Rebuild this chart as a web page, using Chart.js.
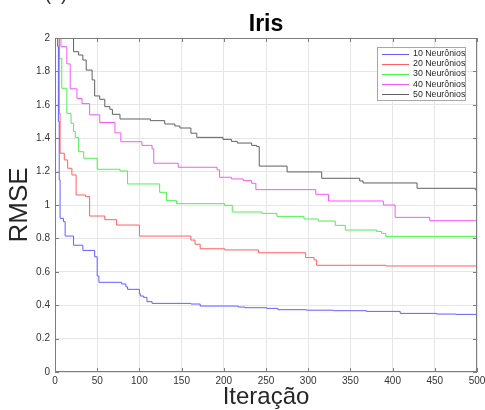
<!DOCTYPE html>
<html>
<head>
<meta charset="utf-8">
<script src="https://cdn.jsdelivr.net/npm/chart.js@4"></script>
<style>
  html, body { margin: 0; padding: 0; background: #ffffff; }
  #wrap { width: 485px; height: 410px; }
</style>
</head>
<body>
<div id="wrap"><canvas id="c" width="485" height="410"></canvas></div>
<script>
// Texts
const panelLabel = '(a)';
const chartTitle = 'Iris';
const xAxisTitle = 'Iteração';
const yAxisTitle = 'RMSE';
const seriesLabels = ['10 Neurônios', '20 Neurônios', '30 Neurônios', '40 Neurônios', '50 Neurônios'];
const seriesColors = ['rgb(96,96,255)', 'rgb(255,96,96)', 'rgb(80,240,80)', 'rgb(245,90,245)', 'rgb(96,96,96)'];

// Axis ticks
const xTicks = [0, 50, 100, 150, 200, 250, 300, 350, 400, 450, 500];
const yTicks = [0, 0.2, 0.4, 0.6, 0.8, 1, 1.2, 1.4, 1.6, 1.8, 2];

// Best RMSE per iteration: iteration at which the value changes, and the new value
const iter10 = [0, 1, 2, 3, 4, 5, 6, 10, 12, 22, 33, 47, 50, 52, 79, 84, 86, 100, 101, 105, 109, 115, 161, 172, 217, 225, 251, 264, 298, 330, 369, 409, 452, 475, 500];
const rmse10 = [3.4, 2.8, 2.3, 1.95, 1.5, 1.15, 0.92, 0.90, 0.814, 0.759, 0.728, 0.69, 0.575, 0.537, 0.527, 0.51, 0.495, 0.47, 0.455, 0.447, 0.421, 0.411, 0.407, 0.395, 0.389, 0.385, 0.381, 0.373, 0.370, 0.367, 0.363, 0.351, 0.347, 0.345, 0.345];

const iter20 = [0, 2, 4, 5, 6, 11, 15, 20, 25, 36, 41, 59, 73, 100, 161, 166, 172, 201, 241, 297, 307, 310, 392, 500];
const rmse20 = [3.0, 2.6, 2.2, 1.55, 1.31, 1.27, 1.22, 1.18, 1.06, 1.052, 0.934, 0.912, 0.88, 0.814, 0.79, 0.765, 0.738, 0.731, 0.714, 0.685, 0.671, 0.639, 0.635, 0.635];

const iter30 = [0, 3, 5, 8, 14, 19, 22, 24, 28, 34, 50, 77, 86, 124, 132, 144, 201, 210, 245, 263, 295, 312, 332, 344, 381, 387, 392, 500];
const rmse30 = [3.0, 2.3, 1.878, 1.699, 1.549, 1.489, 1.44, 1.405, 1.319, 1.28, 1.214, 1.204, 1.126, 1.076, 1.026, 1.008, 0.998, 0.958, 0.95, 0.932, 0.916, 0.904, 0.878, 0.85, 0.842, 0.83, 0.812, 0.812];

const iter40 = [0, 4, 7, 14, 18, 26, 32, 41, 53, 71, 78, 103, 115, 117, 146, 192, 195, 209, 223, 233, 238, 309, 324, 389, 403, 444, 500];
const rmse40 = [3.0, 2.4, 1.948, 1.845, 1.696, 1.638, 1.607, 1.54, 1.494, 1.432, 1.379, 1.357, 1.336, 1.25, 1.226, 1.21, 1.166, 1.156, 1.146, 1.13, 1.092, 1.064, 1.024, 1.0, 0.926, 0.906, 0.906];

const iter50 = [0, 10, 20, 22, 28, 33, 37, 44, 47, 53, 59, 65, 68, 77, 113, 130, 142, 148, 161, 168, 199, 209, 216, 233, 239, 242, 275, 316, 361, 365, 429, 498, 500];
const rmse50 = [3.5, 2.6, 2.2, 1.918, 1.898, 1.868, 1.808, 1.749, 1.653, 1.633, 1.589, 1.573, 1.543, 1.515, 1.505, 1.485, 1.473, 1.461, 1.43, 1.405, 1.393, 1.381, 1.371, 1.357, 1.35, 1.233, 1.198, 1.16, 1.144, 1.132, 1.1, 1.09, 1.09];

const seriesIters = [iter10, iter20, iter30, iter40, iter50];
const seriesRmse = [rmse10, rmse20, rmse30, rmse40, rmse50];

const FONT = "'Liberation Sans', Arial, Helvetica, sans-serif";
const AXIS_COLOR = '#7d7d7d';
const TEXT_COLOR = '#262626';

const datasets = seriesLabels.map((label, i) => ({
  label: label,
  data: seriesIters[i].map((x, k) => ({ x: x, y: seriesRmse[i][k] })),
  borderColor: seriesColors[i],
  backgroundColor: seriesColors[i],
  borderWidth: 1,
  pointRadius: 0,
  stepped: 'before',
  fill: false,
  tension: 0
}));

// Box around the axes, inward tick marks, title, panel label and legend
const decorations = {
  id: 'decorations',
  afterDatasetsDraw(chart) {
    const { ctx, chartArea: a, scales } = chart;
    ctx.save();

    // Frame
    ctx.strokeStyle = AXIS_COLOR;
    ctx.lineWidth = 1;
    ctx.strokeRect(Math.round(a.left) + 0.5, Math.round(a.top) + 0.5,
                   Math.round(a.right - a.left) - 1, Math.round(a.bottom - a.top) - 1);

    // Inward ticks
    const tl = 4;
    ctx.beginPath();
    xTicks.forEach(v => {
      const px = Math.round(scales.x.getPixelForValue(v)) + 0.5;
      ctx.moveTo(px, a.bottom); ctx.lineTo(px, a.bottom - tl);
      ctx.moveTo(px, a.top); ctx.lineTo(px, a.top + tl);
    });
    yTicks.forEach(v => {
      const py = Math.round(scales.y.getPixelForValue(v)) + 0.5;
      ctx.moveTo(a.left, py); ctx.lineTo(a.left + tl, py);
      ctx.moveTo(a.right, py); ctx.lineTo(a.right - tl, py);
    });
    ctx.stroke();

    // Title
    ctx.fillStyle = '#000000';
    ctx.font = 'bold 23px ' + FONT;
    ctx.textAlign = 'center';
    ctx.textBaseline = 'alphabetic';
    ctx.fillText(chartTitle, (a.left + a.right) / 2, 31);

    // Panel label
    ctx.font = '18px ' + FONT;
    ctx.fillStyle = TEXT_COLOR;
    ctx.fillText(panelLabel, 56, 0);

    // Legend
    const bw = 89, bh = 54;
    const bx = Math.round(a.right) - 11 - bw, by = Math.round(a.top) + 9;
    ctx.fillStyle = '#ffffff';
    ctx.fillRect(bx, by, bw, bh);
    ctx.strokeStyle = '#a8a8a8';
    ctx.strokeRect(bx + 0.5, by + 0.5, bw - 1, bh - 1);
    ctx.font = '8.8px ' + FONT;
    ctx.textAlign = 'left';
    ctx.textBaseline = 'middle';
    seriesLabels.forEach((label, i) => {
      const y = by + 6.5 + i * 10.2;
      ctx.strokeStyle = seriesColors[i];
      ctx.beginPath();
      ctx.moveTo(bx + 5, Math.round(y) + 0.5);
      ctx.lineTo(bx + 32, Math.round(y) + 0.5);
      ctx.stroke();
      ctx.fillStyle = TEXT_COLOR;
      ctx.fillText(label, bx + 36, y);
    });

    ctx.restore();
  }
};

new Chart(document.getElementById('c'), {
  type: 'line',
  data: { datasets: datasets },
  options: {
    responsive: false,
    animation: false,
    devicePixelRatio: 1,
    layout: { padding: { top: 38, right: 8, left: 0, bottom: 0 } },
    plugins: {
      legend: { display: false },
      title: { display: false },
      tooltip: { enabled: false }
    },
    scales: {
      x: {
        type: 'linear',
        min: 0,
        max: 500,
        afterBuildTicks: s => { s.ticks = xTicks.map(v => ({ value: v })); },
        afterFit: s => { s.height = 38; s.paddingLeft = 0; s.paddingRight = 0; },
        ticks: {
          font: { family: FONT, size: 10 },
          color: '#333333',
          padding: 3,
          maxRotation: 0,
          autoSkip: false,
          callback: v => String(v)
        },
        grid: { color: '#e6e6e6', drawTicks: false, tickLength: 0 },
        border: { display: false },
        title: {
          display: true,
          text: xAxisTitle,
          font: { family: FONT, size: 24, lineHeight: 1.0 },
          color: TEXT_COLOR,
          padding: { top: 0, bottom: 0.5 }
        }
      },
      y: {
        type: 'linear',
        min: 0,
        max: 2,
        afterBuildTicks: s => { s.ticks = yTicks.map(v => ({ value: v })); },
        afterFit: s => { s.width = 55; s.paddingTop = 0; s.paddingBottom = 0; },
        ticks: {
          font: { family: FONT, size: 10 },
          color: '#333333',
          padding: 5,
          autoSkip: false,
          callback: v => String(Number(v.toFixed(1)))
        },
        grid: { color: '#e6e6e6', drawTicks: false, tickLength: 0 },
        border: { display: false },
        title: {
          display: true,
          text: yAxisTitle,
          font: { family: FONT, size: 26 },
          color: TEXT_COLOR,
          padding: { top: 4, bottom: 0 }
        }
      }
    }
  },
  plugins: [decorations]
});
</script>
</body>
</html>
